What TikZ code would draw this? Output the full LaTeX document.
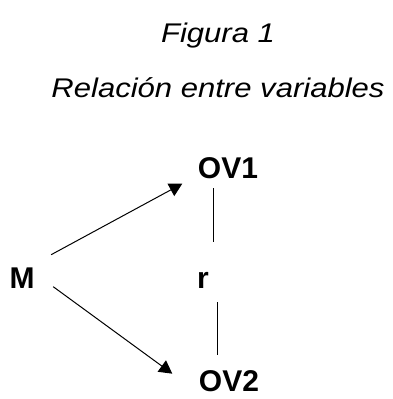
\documentclass[tikz,border=0pt]{standalone}
\usepackage{fontspec}
\setmainfont{Liberation Sans}
\usetikzlibrary{arrows.meta}
\tikzset{
  ttl/.style={font=\fontsize{27}{30}\selectfont\itshape, inner sep=0pt, anchor=base},
  lbl/.style={font=\fontsize{30}{36}\selectfont\bfseries, inner sep=0pt, anchor=base},
  arr/.style={line width=1pt, -{Triangle[length=13pt,width=14pt]}},
  lnk/.style={line width=1pt}
}
\begin{document}
\begin{tikzpicture}[x=1pt,y=-1pt]
\useasboundingbox (0,0) rectangle (393,399);
% titles
\node[ttl] (fig) at (218,42) {\scalebox{1.15}[1]{Figura 1}};
\node[ttl] (rel) at (218,97) {\scalebox{1.15}[1]{Relación entre variables}};
% variables
\node[lbl] (M) at (22,288) {M};
\node[lbl] (OV1) at (228,178) {OV1};
\node[lbl] (r) at (203,288) {r};
\node[lbl] (OV2) at (229,391) {OV2};
% connectors
\draw[arr] ([shift={(16.5,-23)}]M.east) -- ([shift={(-15.5,16)}]OV1.west);
\draw[arr] ([shift={(18.5,9)}]M.east) -- ([shift={(-26.5,-7)}]OV2.west);
\draw[lnk] ([shift={(-15,10)}]OV1.south) -- ([shift={(10,-30)}]r.north);
\draw[lnk] ([shift={(14,14)}]r.south) -- ([shift={(-12,-15)}]OV2.north);
\end{tikzpicture}
\end{document}
